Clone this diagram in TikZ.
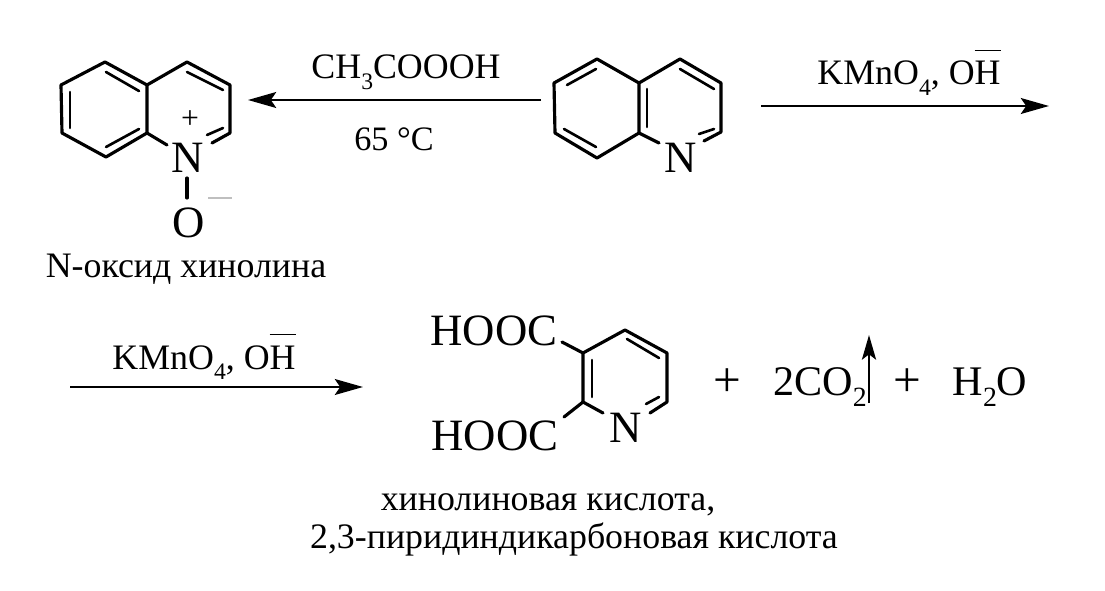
\documentclass[tikz,border=0pt]{standalone}
\usepackage{fontspec}
\usepackage{graphicx}
\setmainfont{Liberation Serif}
\usetikzlibrary{arrows.meta}
\newcommand{\lowidx}[1]{\raisebox{-0.28em}{\scalebox{0.66}{#1}}}
\newcommand{\barH}{$\overline{\mbox{H\rule{0pt}{0.9em}}}$}
\tikzset{
    bond/.style={line width=1.8pt, line cap=round, line join=round},
    inner/.style={line width=1.5pt, line cap=round},
    rxn/.style={line width=1.6pt, -{Stealth[length=16pt, width=9pt, inset=3pt]}},
    chem/.style={anchor=base, inner sep=0pt, font=\fontsize{25.5}{28}\selectfont},
    prod/.style={anchor=base, inner sep=0pt, font=\fontsize{24}{28}\selectfont},
    cond/.style={anchor=base, inner sep=0pt, font=\fontsize{20.4}{24}\selectfont},
    label/.style={anchor=base, inner sep=0pt, font=\fontsize{20.4}{24}\selectfont}
}
\begin{document}
\begin{tikzpicture}[x=0.02cm, y=-0.02cm]

    \useasboundingbox (0, 0) rectangle (1105, 591);

    % Left quinoline N-oxide
    \coordinate (La) at (105, 62);
    \coordinate (Lb) at (61, 85);
    \coordinate (Lc) at (62, 133);
    \coordinate (Ld) at (106, 157);
    \coordinate (Le) at (147, 133);
    \coordinate (Lf) at (147, 85);
    \coordinate (Lg) at (187, 62);
    \coordinate (Lh) at (230, 85);
    \coordinate (Li) at (230, 133);
    \coordinate (Lj) at (167, 145);
    \coordinate (Lk) at (212, 143);
    \coordinate (Ll) at (187, 178);
    \coordinate (Lm) at (187, 198);

    \draw[bond] (Lk) -- (Li) -- (Lh) -- (Lg) -- (Lf) -- (La) -- (Lb) -- (Lc) -- (Ld) -- (Le) -- (Lf);
    \draw[bond] (Le) -- (Lj);
    \draw[bond] (Ll) -- (Lm);

    % Inner lines of the double bonds
    \draw[inner] (106, 72) -- (139, 91);
    \draw[inner] (70, 92) -- (70, 128);
    \draw[inner] (106, 147) -- (139, 129);
    \draw[inner] (187, 72) -- (223, 90);
    \draw[inner] (207, 135) -- (223, 128);

    \node[chem] (Nox) at (188, 173) {N};
    \node[chem, font=\fontsize{18}{20}\selectfont] (Plus) at (190, 129) {+};
    \node[chem] (Oxy) at (189, 237) {O};
    \draw[line width=1.3pt, black!25] (208, 198) -- (232, 198);
    \node[label] (Noxname) at (186, 277) {N-оксид хинолина};

    % Arrow to the N-oxide
    \coordinate (Aa) at (541, 100);
    \coordinate (Ab) at (248, 100);
    \draw[rxn] (Aa) -- (Ab);
    \node[cond] (Peracid) at (406, 79) {CH\lowidx{3}COOOH};
    \node[cond, font=\fontsize{19.5}{24}\selectfont] (Temp) at (394, 151) {65 °C};

    % Middle quinoline
    \coordinate (Ma) at (597, 59);
    \coordinate (Mb) at (554, 83);
    \coordinate (Mc) at (555, 133);
    \coordinate (Md) at (597, 158);
    \coordinate (Me) at (639, 133);
    \coordinate (Mf) at (639, 83);
    \coordinate (Mg) at (680, 59);
    \coordinate (Mh) at (721, 83);
    \coordinate (Mi) at (721, 132);
    \coordinate (Mj) at (659, 143);
    \coordinate (Mk) at (704, 141);

    \draw[bond] (Mk) -- (Mi) -- (Mh) -- (Mg) -- (Mf) -- (Ma) -- (Mb) -- (Mc) -- (Md) -- (Me) -- (Mf);
    \draw[bond] (Me) -- (Mj);

    \draw[inner] (567, 85) -- (596, 69);
    \draw[inner] (564, 129) -- (596, 147);
    \draw[inner] (647, 89) -- (647, 127);
    \draw[inner] (680, 69) -- (714, 89);
    \draw[inner] (699, 134) -- (714, 129);

    \node[chem] (Nmid) at (681, 173) {N};

    % Arrow to the right
    \coordinate (Ba) at (761, 106);
    \coordinate (Bb) at (1049, 106);
    \draw[rxn] (Ba) -- (Bb);
    \node[cond] (Oxa) at (909, 85) {KMnO\lowidx{4}, O\barH};

    % Second line arrow
    \coordinate (Ca) at (70, 387);
    \coordinate (Cb) at (363, 387);
    \draw[rxn] (Ca) -- (Cb);
    \node[cond] (Oxb) at (204, 369) {KMnO\lowidx{4}, O\barH};

    % Quinolinic acid
    \coordinate (Qa) at (583, 353);
    \coordinate (Qb) at (625, 330);
    \coordinate (Qc) at (667, 353);
    \coordinate (Qd) at (667, 402);
    \coordinate (Qe) at (583, 402);
    \coordinate (Qf) at (603, 413);
    \coordinate (Qg) at (650, 413);
    \coordinate (Qh) at (562, 342);
    \coordinate (Qi) at (564, 417);

    \draw[bond] (Qg) -- (Qd) -- (Qc) -- (Qb) -- (Qa) -- (Qe) -- (Qf);
    \draw[bond] (Qh) -- (Qa);
    \draw[bond] (Qi) -- (Qe);

    \draw[inner] (592, 360) -- (592, 397);
    \draw[inner] (627, 339) -- (659, 358);
    \draw[inner] (646, 404) -- (659, 397);

    \node[chem] (Ntop) at (494, 345) {HOOC};
    \node[chem] (Nlow) at (495, 450) {HOOC};
    \node[chem] (Nacid) at (626, 442) {N};

    % Products
    \node[prod, font=\fontsize{28}{30}\selectfont] (PlusA) at (727, 396) {+};
    \node[prod] (Carb) at (820, 395) {2CO\lowidx{2}};
    \coordinate (Ga) at (869, 403);
    \coordinate (Gb) at (869, 335);
    \draw[line width=1.6pt, -{Stealth[length=14pt, width=8pt, inset=3pt]}] (Ga) -- (Gb);
    \node[prod, font=\fontsize{28}{30}\selectfont] (PlusB) at (907, 396) {+};
    \node[prod] (Water) at (990, 395) {H\lowidx{2}O};

    % Names of the acid
    \node[label] (Namea) at (548, 510) {хинолиновая кислота,};
    \node[label] (Nameb) at (574, 548) {2,3-пиридиндикарбоновая кислота};

\end{tikzpicture}
\end{document}
